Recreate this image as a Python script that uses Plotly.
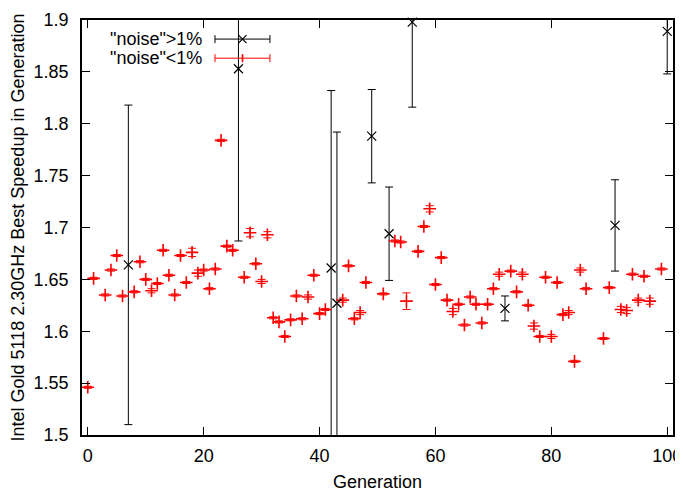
import plotly.graph_objects as go

# "noise"<1% runs (red)
low_gen = [0, 1, 3, 4, 5, 6, 8, 9, 10, 11, 12, 13, 14, 15, 16, 17, 18, 19, 20, 21,
           22, 23, 24, 25, 27, 28, 29, 30, 31, 32, 33, 34, 35, 36, 37, 38, 39, 40, 41, 44,
           45, 46, 47, 48, 51, 53, 54, 55, 57, 58, 59, 60, 61, 62, 63, 64, 65, 66, 67, 68,
           69, 70, 71, 73, 74, 75, 76, 77, 78, 79, 80, 81, 82, 83, 84, 85, 86, 89, 90, 92,
           93, 94, 95, 96, 97, 99]
low_speedup = [1.546, 1.651, 1.635, 1.659, 1.673, 1.634, 1.638, 1.667, 1.650, 1.639,
               1.646, 1.678, 1.654, 1.635, 1.673, 1.647, 1.676, 1.656, 1.659, 1.641,
               1.660, 1.784, 1.682, 1.678, 1.652, 1.695, 1.665, 1.648, 1.693, 1.613,
               1.609, 1.595, 1.611, 1.634, 1.612, 1.633, 1.654, 1.617, 1.621, 1.630,
               1.663, 1.612, 1.618, 1.647, 1.636, 1.687, 1.686, 1.629, 1.677, 1.701,
               1.718, 1.645, 1.671, 1.630, 1.619, 1.626, 1.606, 1.633, 1.626, 1.608,
               1.626, 1.641, 1.655, 1.658, 1.638, 1.655, 1.625, 1.605, 1.595, 1.652,
               1.595, 1.647, 1.616, 1.618, 1.571, 1.659, 1.641, 1.593, 1.642, 1.621,
               1.620, 1.655, 1.630, 1.653, 1.629, 1.660]
low_err = [0.001, 0.001, 0.001, 0.001, 0.001, 0.001, 0.001, 0.001, 0.001, 0.002,
           0.001, 0.001, 0.001, 0.001, 0.001, 0.001, 0.004, 0.003, 0.001, 0.001,
           0.001, 0.001, 0.001, 0.001, 0.001, 0.004, 0.001, 0.002, 0.003, 0.001,
           0.001, 0.001, 0.001, 0.001, 0.001, 0.002, 0.001, 0.001, 0.001, 0.002,
           0.001, 0.001, 0.002, 0.001, 0.001, 0.001, 0.001, 0.008, 0.001, 0.001,
           0.003, 0.001, 0.001, 0.001, 0.003, 0.001, 0.001, 0.001, 0.001, 0.001,
           0.001, 0.001, 0.002, 0.001, 0.001, 0.002, 0.001, 0.003, 0.001, 0.001,
           0.002, 0.001, 0.001, 0.002, 0.001, 0.002, 0.001, 0.001, 0.001, 0.003,
           0.003, 0.001, 0.002, 0.001, 0.003, 0.001]

# "noise">1% runs (black)
high_gen = [7, 26, 42, 43, 49, 52, 56, 72, 91, 100]
high_speedup = [1.664, 1.853, 1.661, 1.627, 1.788, 1.694, 1.898, 1.622, 1.702, 1.889]
high_err = [0.154, 0.166, 0.171, 0.165, 0.045, 0.045, 0.082, 0.012, 0.044, 0.041]

FONT = 'Liberation Sans, Arial, sans-serif'

fig = go.Figure()

# error bars (clipped to the plot area) and markers drawn separately
fig.add_trace(go.Scatter(
    x=low_gen, y=low_speedup, mode='markers',
    marker=dict(size=1, color='rgba(0,0,0,0)'),
    error_y=dict(type='data', array=low_err, color='red', thickness=1, width=4),
    hoverinfo='skip', showlegend=False
))
fig.add_trace(go.Scatter(
    x=high_gen, y=high_speedup, mode='markers',
    marker=dict(size=1, color='rgba(0,0,0,0)'),
    error_y=dict(type='data', array=high_err, color='black', thickness=1, width=4),
    hoverinfo='skip', showlegend=False
))
fig.add_trace(go.Scatter(
    x=low_gen, y=low_speedup, mode='markers', name='"noise"<1%',
    marker=dict(symbol='cross-thin', size=9, line=dict(color='red', width=1.6)),
    cliponaxis=False, showlegend=False
))
fig.add_trace(go.Scatter(
    x=high_gen, y=high_speedup, mode='markers', name='"noise">1%',
    marker=dict(symbol='x-thin', size=9, line=dict(color='black', width=1.2)),
    cliponaxis=False, showlegend=False
))

# hand-drawn key, gnuplot style (text on the left, sample on the right)
H = 415.0
W = 591.0
keys = [('"noise">1%', 'black', 0.954, 'x'), ('"noise"<1%', 'red', 0.908, '+')]
shapes = []
annotations = []
for label, col, ky, sym in keys:
    annotations.append(dict(
        xref='paper', yref='paper', x=0.2064, y=ky, xanchor='right', yanchor='middle',
        text=label, showarrow=False, font=dict(family=FONT, size=18, color='black')
    ))
    shapes.append(dict(type='line', xref='paper', yref='paper', x0=0.225, x1=0.318, y0=ky, y1=ky,
                       line=dict(color=col, width=1)))
    for cx in (0.225, 0.318):
        shapes.append(dict(type='line', xref='paper', yref='paper', x0=cx, x1=cx,
                           y0=ky - 4 / H, y1=ky + 4 / H, line=dict(color=col, width=1)))
    mx = 0.2716
    if sym == 'x':
        shapes.append(dict(type='line', xref='paper', yref='paper', x0=mx - 4 / W, x1=mx + 4 / W,
                           y0=ky - 4 / H, y1=ky + 4 / H, line=dict(color=col, width=1.2)))
        shapes.append(dict(type='line', xref='paper', yref='paper', x0=mx - 4 / W, x1=mx + 4 / W,
                           y0=ky + 4 / H, y1=ky - 4 / H, line=dict(color=col, width=1.2)))
    else:
        shapes.append(dict(type='line', xref='paper', yref='paper', x0=mx, x1=mx,
                           y0=ky - 4 / H, y1=ky + 4 / H, line=dict(color=col, width=1.6)))

# the page body adds an 8px offset, so the figure is 8px smaller on each axis
fig.update_layout(
    width=675,
    height=485,
    margin=dict(l=74, r=10, t=12, b=58),
    paper_bgcolor='white',
    plot_bgcolor='white',
    font=dict(family=FONT, size=18, color='black'),
    showlegend=False,
    shapes=shapes,
    annotations=annotations
)

fig.update_xaxes(
    range=[-1, 101],
    tickmode='linear', tick0=0, dtick=20,
    ticks='inside', ticklen=8, tickwidth=1, tickcolor='black',
    showline=True, linecolor='black', linewidth=1.5, mirror='ticks',
    showgrid=False, zeroline=False,
    ticklabelstandoff=4,
    automargin=False,
    title=dict(text='Generation', standoff=10, font=dict(size=18))
)
fig.update_yaxes(
    range=[1.5, 1.9],
    tickmode='linear', tick0=1.5, dtick=0.05,
    ticks='inside', ticklen=8, tickwidth=1, tickcolor='black',
    showline=True, linecolor='black', linewidth=1.5, mirror='ticks',
    showgrid=False, zeroline=False,
    ticklabelstandoff=8,
    automargin=False,
    title=dict(text='Intel Gold 5118 2.30GHz Best Speedup in Generation', standoff=6, font=dict(size=18))
)

fig.write_html('out.html')
